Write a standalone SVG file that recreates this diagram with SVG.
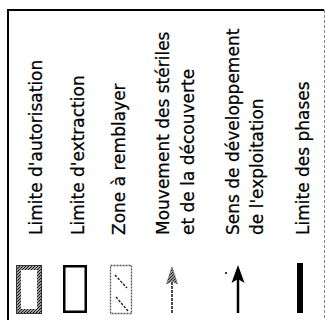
<svg xmlns="http://www.w3.org/2000/svg" width="326" height="320" viewBox="0 0 326 320">
<style>
.t{font-family:"DejaVu Sans","Liberation Sans",sans-serif;font-size:17px;fill:#000;stroke:#000;stroke-width:0.25}
</style>
<defs>
<pattern id="stip" width="3" height="3" patternUnits="userSpaceOnUse">
<rect width="3" height="3" fill="#999"/>
<rect x="0" y="0" width="1" height="1" fill="#111"/>
<rect x="2" y="1" width="1" height="1" fill="#333"/>
<rect x="1" y="2" width="1" height="1" fill="#222"/>
</pattern>
</defs>
<rect width="326" height="320" fill="#fff"/>
<g id="frame">
<path d="M8 320V10H324" fill="none" stroke="#000" stroke-width="2"/>
<line x1="324.5" y1="10" x2="324.5" y2="320" stroke="#888" stroke-width="1" stroke-dasharray="3 2"/>
</g>
<g id="autorisation">
<rect x="18.5" y="267.5" width="21" height="44" fill="none" stroke="url(#stip)" stroke-width="5"/>
<rect x="16.5" y="265.5" width="25" height="48" fill="none" stroke="#333" stroke-width="1"/>
<text class="t" transform="translate(42,235) rotate(-90)">Limite d'autorisation</text>
</g>
<g id="extraction">
<rect x="64.25" y="266.25" width="21.5" height="45.5" fill="#fff" stroke="#000" stroke-width="2.5"/>
<text class="t" transform="translate(84,235) rotate(-90)">Limite d'extraction</text>
</g>
<g id="remblayer">
<rect x="110.5" y="265.5" width="21" height="48" fill="#fff" stroke="#555" stroke-width="1.3" stroke-dasharray="2 1"/>
<line x1="115" y1="275" x2="127" y2="288" stroke="#222" stroke-width="1.4" stroke-dasharray="2.5 1.5"/>
<line x1="116" y1="297" x2="128" y2="311" stroke="#222" stroke-width="1.4" stroke-dasharray="2.5 1.5"/>
<text class="t" transform="translate(125,235) rotate(-90)">Zone à remblayer</text>
</g>
<g id="mouvement">
<line x1="172" y1="313" x2="172" y2="280" stroke="#111" stroke-width="1.5" stroke-dasharray="3 1"/>
<path d="M172 267L177.5 284L172 281L166.5 284Z" fill="url(#stip)" stroke="#555" stroke-width="0.6"/>
<text class="t" transform="translate(169,235) rotate(-90)">Mouvement des stériles</text>
<text class="t" transform="translate(194,235) rotate(-90)">et de la découverte</text>
</g>
<g id="sens">
<line x1="238" y1="313" x2="238" y2="278" stroke="#000" stroke-width="2.5"/>
<path d="M238 265L244.5 283L238 279L231.5 283Z" fill="#000"/>
<circle cx="226" cy="273" r="1" fill="#000"/>
<text class="t" transform="translate(239,235) rotate(-90)">Sens de développement</text>
<text class="t" transform="translate(263,235) rotate(-90)">de l'exploitation</text>
</g>
<g id="phases">
<rect x="297" y="263" width="6" height="50" fill="#000"/>
<text class="t" transform="translate(309,235) rotate(-90)">Limite des phases</text>
</g>
<g id="connectors"/>
</svg>
